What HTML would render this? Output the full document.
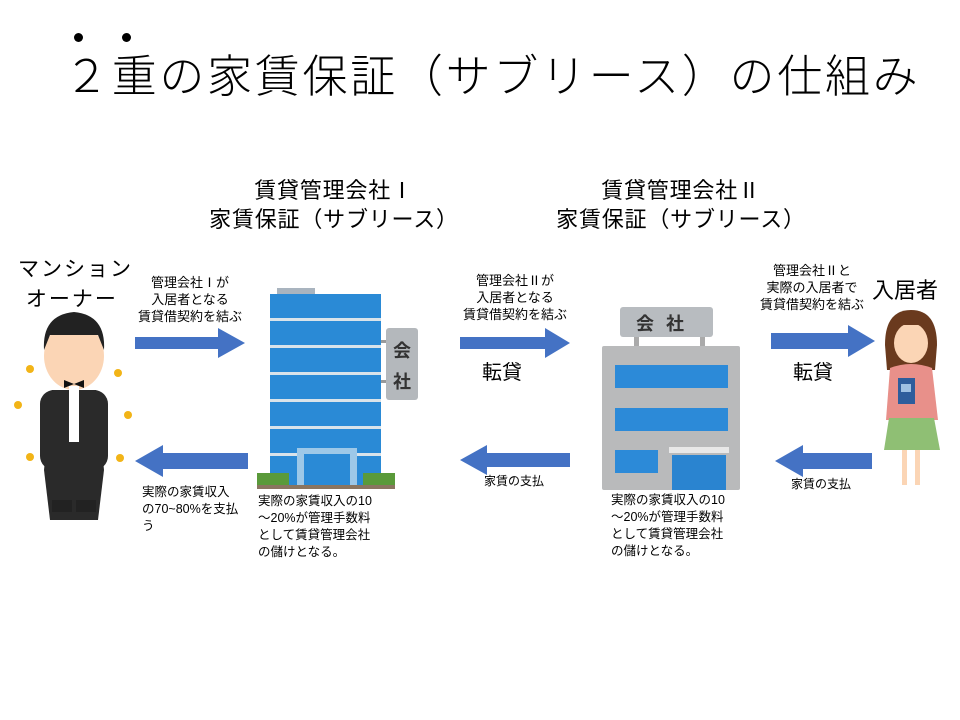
<!DOCTYPE html>
<html><head><meta charset="utf-8"><style>
body{margin:0;width:960px;height:720px;background:#fff;position:relative;overflow:hidden;font-family:"Liberation Sans","Noto Sans CJK JP",sans-serif;color:#000}
.t{position:absolute;white-space:nowrap;line-height:1.2}
.c{text-align:center}
.dot{position:absolute;width:9px;height:9px;border-radius:50%;background:#000}
svg{position:absolute;left:0;top:0}
</style></head><body>
<div class="dot" style="left:74px;top:33px"></div>
<div class="dot" style="left:122px;top:33px"></div>
<div class="t" style="left:64px;top:50px;font-size:45px;letter-spacing:2.7px;font-weight:300">２重の家賃保証（サブリース）の仕組み</div>

<div class="t c" style="left:184px;width:300px;top:176px;font-size:22px;line-height:29px;letter-spacing:0.8px">賃貸管理会社Ⅰ<br>家賃保証（サブリース）</div>
<div class="t c" style="left:531px;width:300px;top:176px;font-size:22px;line-height:29px;letter-spacing:0.8px">賃貸管理会社Ⅱ<br>家賃保証（サブリース）</div>

<div class="t" style="left:18px;top:255px;font-size:21px;line-height:30px;letter-spacing:2px">マンション<br>&nbsp;オーナー</div>
<div class="t" style="left:872px;top:278px;font-size:22px">入居者</div>

<div class="t c" style="left:120px;width:140px;top:274px;font-size:13px;line-height:17px">管理会社Ⅰが<br>入居者となる<br>賃貸借契約を結ぶ</div>
<div class="t c" style="left:445px;width:140px;top:272px;font-size:13px;line-height:17px">管理会社Ⅱが<br>入居者となる<br>賃貸借契約を結ぶ</div>
<div class="t c" style="left:742px;width:140px;top:262px;font-size:13px;line-height:17px">管理会社Ⅱと<br>実際の入居者で<br>賃貸借契約を結ぶ</div>

<div class="t" style="left:482px;top:361px;font-size:20px">転貸</div>
<div class="t" style="left:793px;top:361px;font-size:20px">転貸</div>
<div class="t" style="left:484px;top:474px;font-size:12px">家賃の支払</div>
<div class="t" style="left:791px;top:477px;font-size:12px">家賃の支払</div>

<div class="t" style="left:142px;top:484px;font-size:12.5px;line-height:17px">実際の家賃収入<br>の70~80%を支払<br>う</div>
<div class="t" style="left:258px;top:493px;font-size:12.5px;line-height:17px">実際の家賃収入の10<br>～20%が管理手数料<br>として賃貸管理会社<br>の儲けとなる。</div>
<div class="t" style="left:611px;top:492px;font-size:12.5px;line-height:17px">実際の家賃収入の10<br>～20%が管理手数料<br>として賃貸管理会社<br>の儲けとなる。</div>

<svg width="960" height="720">
<g fill="#4472c4">
<polygon points="135,337 218,337 218,328 245,343 218,358 218,349 135,349"/>
<polygon points="248,453 163,453 163,445 135,461 163,477 163,469 248,469"/>
<polygon points="460,337 545,337 545,328 570,343 545,358 545,349 460,349"/>
<polygon points="570,453 487,453 487,445 460,460 487,475 487,467 570,467"/>
<polygon points="771,333 848,333 848,325 875,341 848,357 848,349 771,349"/>
<polygon points="872,453 803,453 803,445 775,461 803,477 803,469 872,469"/>
</g>
<rect x="277" y="288" width="38" height="6" fill="#a9b4bf"/>
<rect x="270" y="294" width="111" height="192" fill="#2a8ad6"/>
<g fill="#d9e3ea">
<rect x="270" y="318" width="111" height="3"/><rect x="270" y="345" width="111" height="3"/>
<rect x="270" y="372" width="111" height="3"/><rect x="270" y="399" width="111" height="3"/>
<rect x="270" y="426" width="111" height="3"/><rect x="270" y="453" width="111" height="3"/>
</g>
<rect x="297" y="448" width="60" height="40" fill="#9dc8e8"/>
<rect x="304" y="454" width="46" height="34" fill="#2a8ad6"/>
<rect x="257" y="473" width="32" height="12" fill="#5a9a3a"/><rect x="363" y="473" width="32" height="12" fill="#5a9a3a"/>
<rect x="257" y="485" width="138" height="4" fill="#8a7560"/>
<rect x="381" y="340" width="7" height="3" fill="#999"/><rect x="381" y="380" width="7" height="3" fill="#999"/>
<rect x="386" y="328" width="32" height="72" rx="3" fill="#b4b8bc"/>
<text x="402" y="357" font-size="18" font-weight="bold" text-anchor="middle" fill="#333">会</text>
<text x="402" y="388" font-size="18" font-weight="bold" text-anchor="middle" fill="#333">社</text>
<rect x="620" y="307" width="93" height="30" rx="3" fill="#b8bcc0"/>
<text x="666" y="330" font-size="18" font-weight="bold" text-anchor="middle" fill="#333" letter-spacing="12">会社</text>
<rect x="634" y="337" width="5" height="9" fill="#aaa"/><rect x="700" y="337" width="5" height="9" fill="#aaa"/>
<rect x="602" y="346" width="138" height="144" rx="2" fill="#b9babb"/>
<rect x="615" y="365" width="113" height="23" fill="#2c8ad8"/>
<rect x="615" y="408" width="113" height="23" fill="#2c8ad8"/>
<rect x="615" y="450" width="43" height="23" fill="#2c8ad8"/>
<rect x="669" y="447" width="60" height="6" fill="#e8e8e8"/>
<rect x="672" y="455" width="54" height="35" fill="#2a84d0"/>
<ellipse cx="74" cy="356" rx="30" ry="34" fill="#fbd5b5"/>
<path d="M44 350 Q42 315 74 312 Q106 315 104 350 L98 335 L50 335 Z" fill="#222"/>
<path d="M52 390 L96 390 L104 470 L98 520 L50 520 L44 470 Z" fill="#2a2a2a"/>
<rect x="40" y="390" width="68" height="80" rx="14" fill="#2a2a2a"/>
<rect x="69" y="386" width="10" height="56" fill="#fff"/>
<path d="M64 380 L84 388 L84 380 L64 388 Z" fill="#111"/>
<rect x="52" y="500" width="20" height="12" fill="#222"/><rect x="76" y="500" width="20" height="12" fill="#222"/>
<g fill="#f2b417">
<circle cx="30" cy="369" r="4"/><circle cx="118" cy="373" r="4"/><circle cx="18" cy="405" r="4"/>
<circle cx="128" cy="415" r="4"/><circle cx="30" cy="457" r="4"/><circle cx="120" cy="458" r="4"/>
</g>
<path d="M885 345 Q885 310 911 310 Q937 310 937 345 L935 370 L887 370 Z" fill="#6a3a1e"/>
<ellipse cx="911" cy="343" rx="17" ry="20" fill="#fbd5b5"/>
<path d="M893 333 Q900 316 911 316 Q925 316 930 333 L926 325 L898 325 Z" fill="#6a3a1e"/>
<path d="M890 368 Q911 360 932 368 L938 420 L886 420 Z" fill="#e8908a"/>
<path d="M889 418 L934 418 L940 450 L884 450 Z" fill="#8fbf74"/>
<rect x="898" y="378" width="17" height="26" fill="#2e5d9c"/>
<rect x="901" y="384" width="10" height="8" fill="#9fc1e3"/>
<rect x="902" y="450" width="5" height="35" fill="#fbd5b5"/><rect x="915" y="450" width="5" height="35" fill="#fbd5b5"/>
</svg>
</body></html>
